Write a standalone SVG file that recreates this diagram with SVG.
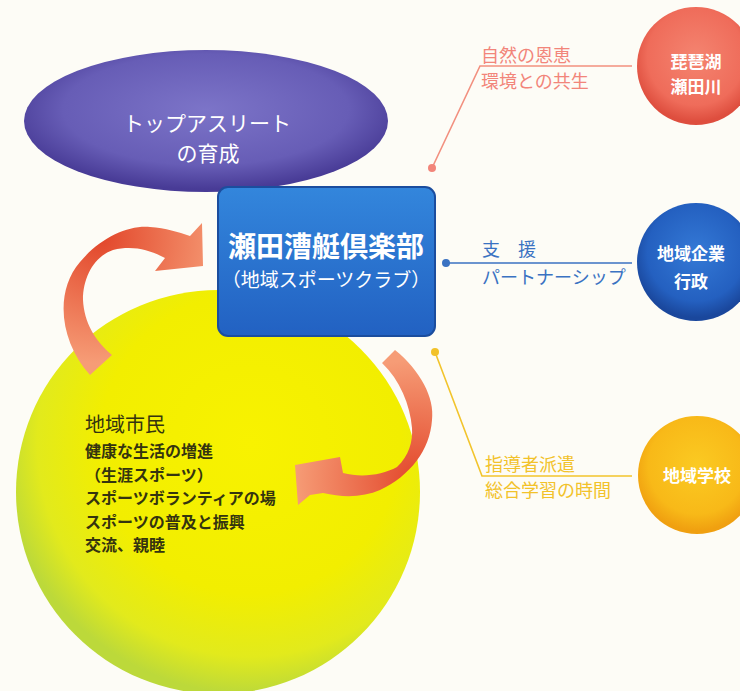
<svg xmlns="http://www.w3.org/2000/svg" width="740" height="691" viewBox="0 0 740 691">
<defs>
<style>
text{font-family:"Noto Sans CJK JP","Noto Sans",sans-serif}
.w{fill:#ffffff}
.lbl{font-size:18px}
.red{fill:#f2857a}
.blu{fill:#3a72c2}
.gold{fill:#f2c22a}
.cit{fill:#34340f;font-weight:bold;font-size:16px}
.circ{font-size:17px;font-weight:bold;fill:#ffffff;text-anchor:middle}
</style>
<radialGradient id="gYel" cx="0.58" cy="0.38" r="0.62">
<stop offset="0" stop-color="#f8f200"/>
<stop offset="0.6" stop-color="#f2ee00"/>
<stop offset="0.85" stop-color="#e2ea1c"/>
<stop offset="1" stop-color="#bcd93a"/>
</radialGradient>
<radialGradient id="gPur" cx="0.5" cy="0.42" r="0.56">
<stop offset="0" stop-color="#7c74c8"/>
<stop offset="0.7" stop-color="#675db6"/>
<stop offset="1" stop-color="#483b96"/>
</radialGradient>
<linearGradient id="gBox" x1="0" y1="0" x2="0" y2="1">
<stop offset="0" stop-color="#3386dc"/>
<stop offset="1" stop-color="#2261c2"/>
</linearGradient>
<radialGradient id="gRed" cx="0.5" cy="0.42" r="0.55">
<stop offset="0" stop-color="#f48470"/>
<stop offset="0.75" stop-color="#ef6c5a"/>
<stop offset="1" stop-color="#de4e3e"/>
</radialGradient>
<radialGradient id="gBlu" cx="0.5" cy="0.42" r="0.55">
<stop offset="0" stop-color="#3479d6"/>
<stop offset="0.75" stop-color="#2460c0"/>
<stop offset="1" stop-color="#1a479c"/>
</radialGradient>
<radialGradient id="gGold" cx="0.5" cy="0.42" r="0.55">
<stop offset="0" stop-color="#fbca22"/>
<stop offset="0.75" stop-color="#f8b918"/>
<stop offset="1" stop-color="#f0a010"/>
</radialGradient>
<radialGradient id="gArrL" gradientUnits="userSpaceOnUse" cx="100" cy="238" r="125">
<stop offset="0" stop-color="#e2462a"/>
<stop offset="1" stop-color="#f69c76"/>
</radialGradient>
<radialGradient id="gArrR" gradientUnits="userSpaceOnUse" cx="415" cy="480" r="120">
<stop offset="0" stop-color="#e3472b"/>
<stop offset="1" stop-color="#f69c76"/>
</radialGradient>
</defs>
<rect width="740" height="691" fill="#fdfcf6"/>

<g id="node-citizens">
<circle cx="218" cy="492" r="202" fill="url(#gYel)"/>
<text x="85" y="432" font-size="20" fill="#34340f">地域市民</text>
<text class="cit" x="85" y="457">健康な生活の増進</text>
<text class="cit" x="85" y="480.5">（生涯スポーツ）</text>
<text class="cit" x="85" y="504">スポーツボランティアの場</text>
<text class="cit" x="85" y="527.5">スポーツの普及と振興</text>
<text class="cit" x="85" y="551">交流、親睦</text>
</g>

<g id="node-athlete">
<ellipse cx="206" cy="121" rx="182" ry="71" fill="url(#gPur)"/>
<text class="w" x="207" y="131" font-size="21" text-anchor="middle">トップアスリート</text>
<text class="w" x="208" y="161" font-size="21" text-anchor="middle">の育成</text>
</g>

<g id="node-club">
<rect x="218" y="187" width="217" height="149" rx="10" fill="url(#gBox)" stroke="#1b4d9e" stroke-width="2"/>
<text class="w" x="326" y="257" font-size="28" font-weight="bold" text-anchor="middle">瀬田漕艇倶楽部</text>
<text class="w" x="326" y="287" font-size="19" text-anchor="middle">（地域スポーツクラブ）</text>
</g>

<g id="node-biwako">
<circle cx="696" cy="66" r="59" fill="url(#gRed)"/>
<text class="circ" x="696" y="68">琵琶湖</text>
<text class="circ" x="696" y="93">瀬田川</text>
</g>

<g id="node-companies">
<circle cx="696" cy="262" r="59" fill="url(#gBlu)"/>
<text class="circ" x="691" y="260" font-size="19">地域企業</text>
<text class="circ" x="691" y="288" font-size="19">行政</text>
</g>

<g id="node-schools">
<circle cx="697" cy="475" r="59" fill="url(#gGold)"/>
<text class="circ" x="697" y="482" font-size="18">地域学校</text>
</g>

<g id="connectors">
<polyline points="432,168 480,66 632,66" fill="none" stroke="#f2907f" stroke-width="1.6"/>
<circle cx="432" cy="168" r="4" fill="#f2857a"/>
<text class="lbl red" x="481" y="62">自然の恩恵</text>
<text class="lbl red" x="481" y="88">環境との共生</text>

<line x1="446" y1="263" x2="632" y2="263" stroke="#3a72c2" stroke-width="1.6"/>
<circle cx="446" cy="263" r="4" fill="#3a72c2"/>
<text class="lbl blu" x="482" y="256">支　援</text>
<text class="lbl blu" x="482" y="284">パートナーシップ</text>

<polyline points="435,352 482,476 632,476" fill="none" stroke="#f2c42c" stroke-width="1.6"/>
<circle cx="435" cy="352" r="4" fill="#f2c22a"/>
<text class="lbl gold" x="485" y="471">指導者派遣</text>
<text class="lbl gold" x="485" y="497">総合学習の時間</text>

<path id="arrow-up" d="M90,375 C60,342 54,292 80,262 C100,238 128,225 150,227 C166,228 178,232 190,236 L202,223 L203,266 L155,271 L165,258 C150,250 133,245 113,250 C95,256 83,276 83,300 C84,322 95,341 112,355 Z" fill="url(#gArrL)"/>
<path id="arrow-down" d="M395,350 C420,370 435,398 432,420 C430,450 410,476 380,490 C364,497 344,498 323,493 L310,495 L298,505 L295,465 L340,457 L343,473 C362,478 382,475 397,467 C409,456 413,441 412,428 C410,405 400,380 382,363 Z" fill="url(#gArrR)"/>
</g>
</svg>
